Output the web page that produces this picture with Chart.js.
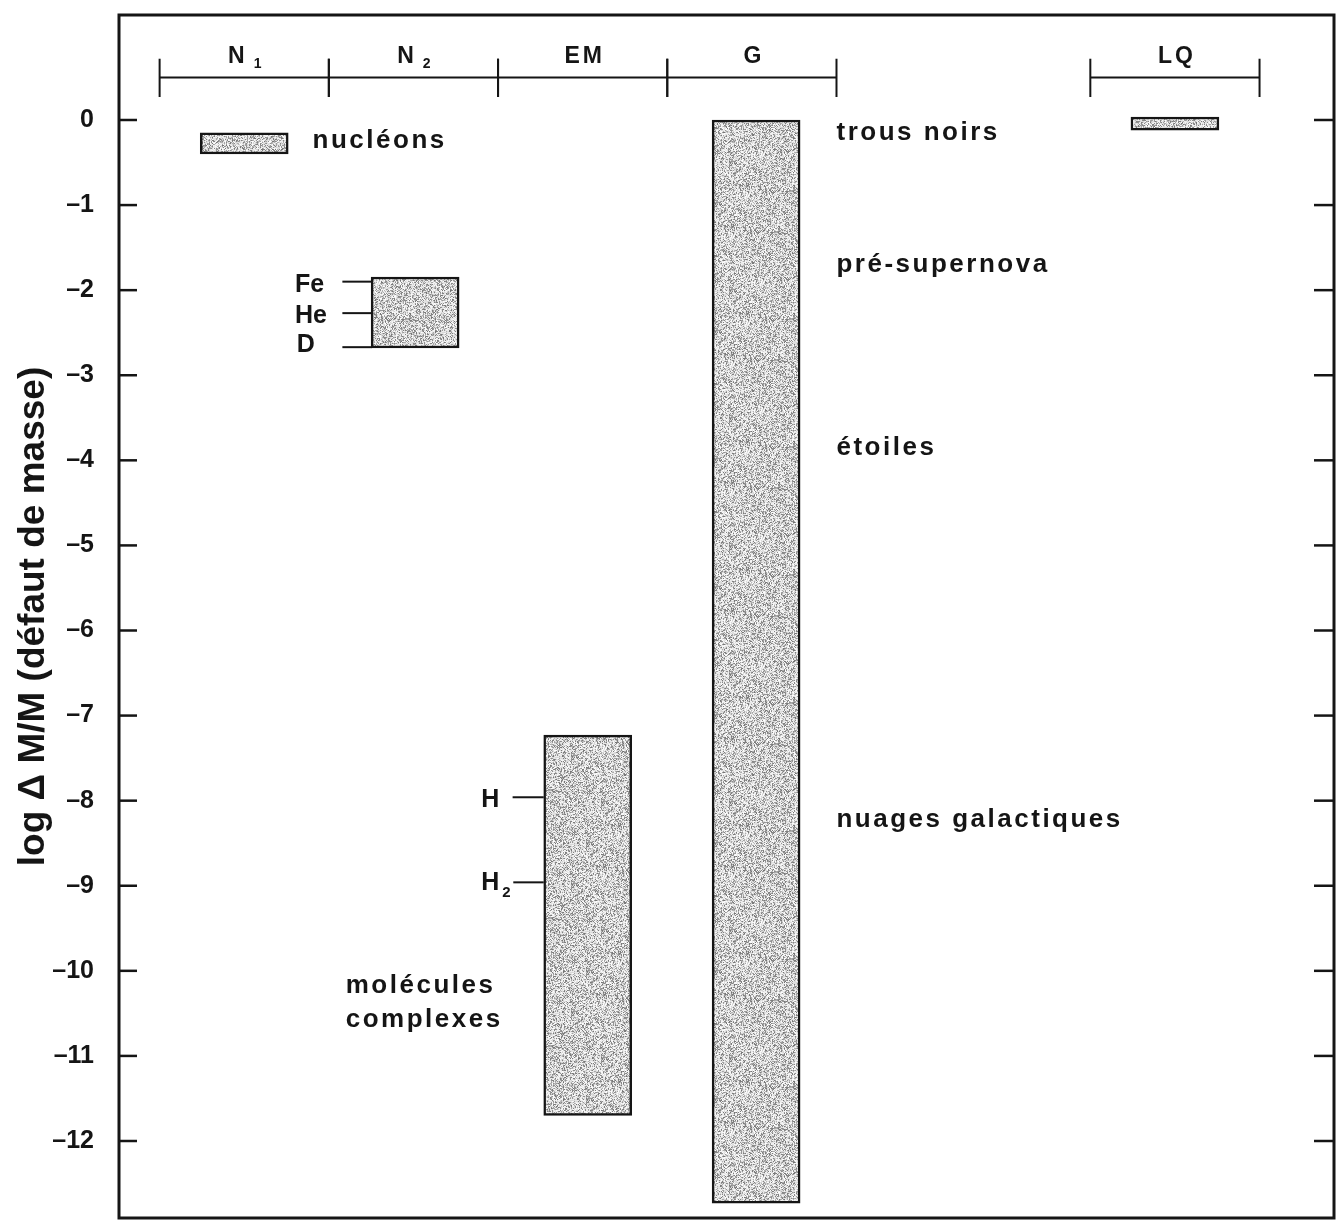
<!DOCTYPE html>
<html><head><meta charset="utf-8">
<script src="https://cdn.jsdelivr.net/npm/chart.js@4.4.1/dist/chart.umd.min.js"></script>
<style>html,body{margin:0;padding:0;background:#fff}#wrap{width:1340px;height:1220px}</style>
</head><body><div id="wrap"><canvas id="c" width="1340" height="1220"></canvas></div>
<script>
// ---- data ----
const groupLabels = ['N', 'N', 'EM', 'G', 'LQ'];
const groupSubs   = ['1', '2', '', '', ''];
const groupFrom   = [0, 1, 2, 3, 5.5];
const groupTo     = [1, 2, 3, 4, 6.5];

const barNames = ['nucléons', 'noyaux', 'atomes et molécules', 'gravitation', 'LQ'];
const barX     = [0.50, 1.51, 2.53, 3.525, 6.0];
const barLow   = [-0.40, -2.68, -11.70, -12.73, -0.12];
const barHigh  = [-0.15, -1.845, -7.23, 0, 0.035];

const yTickValues = [0, -1, -2, -3, -4, -5, -6, -7, -8, -9, -10, -11, -12];
const yTickLabels = ['0', '–1', '–2', '–3', '–4', '–5', '–6', '–7', '–8', '–9', '–10', '–11', '–12'];

const markerLabels = ['Fe', 'He', 'D', 'H', 'H'];
const markerSubs   = ['', '', '', '', '2'];
const markerLevels = [-1.90, -2.27, -2.67, -7.96, -8.96];

const FAMILY = '"Liberation Sans", Arial, sans-serif';
const INK = '#151515';

// ---- stipple fill (style only) ----
const canvas = document.getElementById('c');
const mainCtx = canvas.getContext('2d');
function makeStipple() {
  const c = document.createElement('canvas'); c.width = c.height = 128;
  const g = c.getContext('2d');
  const img = g.createImageData(128, 128);
  let s = 987654321;
  const r = () => { s = (s * 1103515245 + 12345) % 2147483648; return s / 2147483648; };
  for (let i = 0; i < img.data.length; i += 4) {
    const v = r() < 0.38 ? 115 + r() * 70 : 210 + r() * 45;
    img.data[i] = img.data[i + 1] = img.data[i + 2] = v; img.data[i + 3] = 255;
  }
  g.putImageData(img, 0, 0);
  return mainCtx.createPattern(c, 'repeat');
}
const stipple = makeStipple();

// ---- annotation layout (data coordinates) ----
const texts = [
  { t: 'nucléons', x: 0.904, y: -0.33 },
  { t: 'trous noirs', x: 4.0, y: -0.235 },
  { t: 'pré-supernova', x: 4.0, y: -1.787 },
  { t: 'étoiles', x: 4.0, y: -3.94 },
  { t: 'nuages galactiques', x: 4.0, y: -8.31 },
  { t: 'molécules', x: 1.10, y: -10.26 },
  { t: 'complexes', x: 1.10, y: -10.66 }
];
const markerGeom = [
  { lx: 0.80, by: -2.02, x0: 1.08, x1: 1.255 },
  { lx: 0.80, by: -2.39, x0: 1.08, x1: 1.255 },
  { lx: 0.81, by: -2.73, x0: 1.08, x1: 1.255 },
  { lx: 1.90, by: -8.07, x0: 2.086, x1: 2.27 },
  { lx: 1.90, by: -9.05, x0: 2.09, x1: 2.27 }
];

function line(ctx, x0, y0, x1, y1) { ctx.beginPath(); ctx.moveTo(x0, y0); ctx.lineTo(x1, y1); ctx.stroke(); }

const annot = {
  id: 'annot',
  afterDraw(chart) {
    const { ctx, chartArea: a, scales: { x, y } } = chart;
    ctx.save();
    ctx.strokeStyle = INK; ctx.fillStyle = INK;
    // frame
    ctx.lineWidth = 3;
    ctx.strokeRect(a.left, a.top, a.right - a.left, a.bottom - a.top);
    // inward ticks on both sides
    ctx.lineWidth = 2.5;
    y.ticks.forEach(t => {
      const py = y.getPixelForValue(t.value);
      line(ctx, a.left, py, a.left + 18, py);
      line(ctx, a.right - 20, py, a.right, py);
    });
    // top brackets
    ctx.lineWidth = 2;
    const by = y.getPixelForValue(0.50), bt = y.getPixelForValue(0.72), bb = y.getPixelForValue(0.27);
    const lby = y.getPixelForValue(0.67);
    for (let i = 0; i < groupLabels.length; i++) {
      const x0 = x.getPixelForValue(groupFrom[i]), x1 = x.getPixelForValue(groupTo[i]);
      line(ctx, x0, by, x1, by);
      line(ctx, x0, bt, x0, bb);
      line(ctx, x1, bt, x1, bb);
      const cx = (x0 + x1) / 2;
      ctx.font = 'bold 23px ' + FAMILY;
      ctx.letterSpacing = '3px';
      ctx.textBaseline = 'alphabetic';
      const w1 = ctx.measureText(groupLabels[i]).width;
      let w2 = 0;
      if (groupSubs[i]) { ctx.font = 'bold 14px ' + FAMILY; w2 = ctx.measureText(groupSubs[i]).width + 6; }
      const sx = cx - (w1 + w2) / 2 + 2;
      ctx.font = 'bold 23px ' + FAMILY;
      ctx.textAlign = 'left';
      ctx.fillText(groupLabels[i], sx, lby);
      if (groupSubs[i]) { ctx.font = 'bold 14px ' + FAMILY; ctx.fillText(groupSubs[i], sx + w1 + 6, lby + 5); }
    }
    // free texts
    ctx.font = 'bold 26px ' + FAMILY;
    ctx.letterSpacing = '2.5px';
    ctx.textAlign = 'left'; ctx.textBaseline = 'alphabetic';
    texts.forEach(o => ctx.fillText(o.t, x.getPixelForValue(o.x), y.getPixelForValue(o.y)));
    // marker labels with leader lines
    ctx.letterSpacing = '0px';
    ctx.lineWidth = 2;
    for (let i = 0; i < markerLabels.length; i++) {
      const g = markerGeom[i];
      const py = y.getPixelForValue(markerLevels[i]);
      line(ctx, x.getPixelForValue(g.x0), py, x.getPixelForValue(g.x1), py);
      ctx.font = 'bold 25px ' + FAMILY;
      const lx = x.getPixelForValue(g.lx), ly = y.getPixelForValue(g.by);
      ctx.fillText(markerLabels[i], lx, ly);
      if (markerSubs[i]) {
        const w = ctx.measureText(markerLabels[i]).width;
        ctx.font = 'bold 15px ' + FAMILY;
        ctx.fillText(markerSubs[i], lx + w + 3, ly + 7);
      }
    }
    ctx.restore();
  }
};

new Chart(mainCtx, {
  type: 'bar',
  data: {
    labels: barNames,
    datasets: [{
      data: barX.map((v, i) => ({ x: v, y: [barLow[i], barHigh[i]] })),
      backgroundColor: stipple,
      borderColor: INK,
      borderWidth: 2.5,
      borderSkipped: false,
      barThickness: 88
    }]
  },
  options: {
    responsive: false,
    animation: false,
    events: [],
    layout: { padding: { top: 15, right: 6, bottom: 2, left: 0 } },
    plugins: { legend: { display: false }, tooltip: { enabled: false } },
    scales: {
      x: { type: 'linear', min: -0.24, max: 6.94, display: false, offset: false },
      y: {
        type: 'linear', min: -12.905, max: 1.234,
        afterBuildTicks: s => { s.ticks = yTickValues.map(v => ({ value: v })); },
        afterFit: s => { s.width = 119; s.paddingTop = 0; s.paddingBottom = 0; },
        grid: { display: false },
        border: { display: false },
        ticks: {
          autoSkip: false,
          callback: (v, i) => yTickLabels[i],
          font: { family: FAMILY, size: 25, weight: 'bold' },
          color: INK,
          padding: 17
        },
        title: {
          display: true,
          text: 'log Δ M/M (défaut de masse)',
          font: { family: FAMILY, size: 37, weight: 'bold' },
          color: INK,
          padding: { top: 12, bottom: 0 }
        }
      }
    }
  },
  plugins: [annot]
});
</script>
</body></html>
